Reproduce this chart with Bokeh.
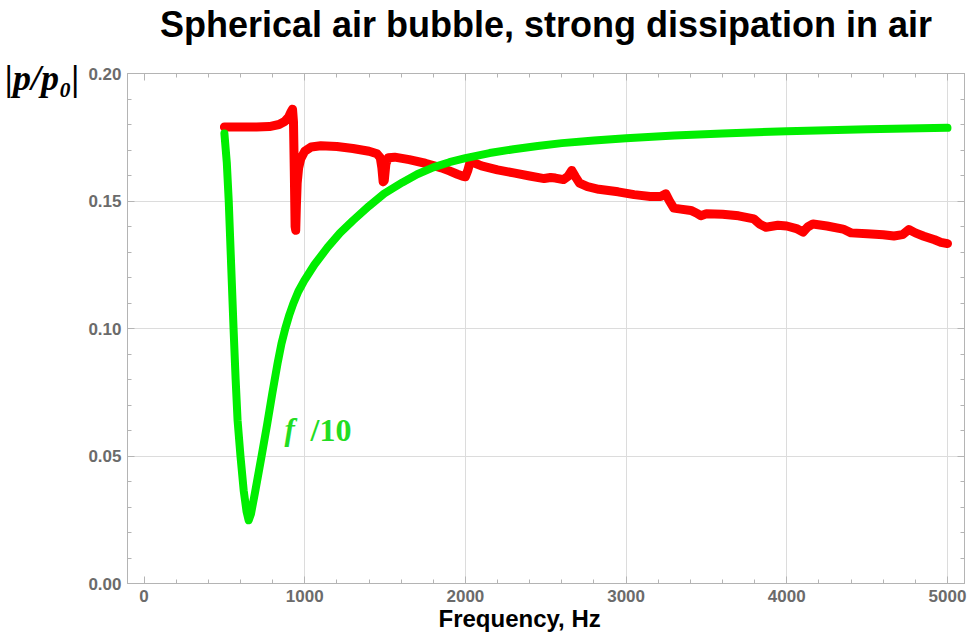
from bokeh.plotting import figure
from bokeh.models import (Range1d, LinearAxis, SingleIntervalTicker, FixedTicker,
                          NumeralTickFormatter, CustomJSTickFormatter, Label, Title, Grid)
from bokeh.embed import file_html
from bokeh.resources import INLINE

# ---------------- data ----------------
title_text = "Spherical air bubble, strong dissipation in air"
x_label = "Frequency, Hz"
y_label = "|p/p₀|"
curve_label_f = "f"
curve_label_div = "/10"

freq_red = [500, 600, 700, 780, 840, 875, 900, 915, 924, 930, 935, 940, 944, 948, 953, 962, 975,
            1000, 1040, 1100, 1200, 1300, 1400, 1450, 1470, 1480, 1488, 1495, 1505, 1520, 1560,
            1650, 1750, 1850, 1900, 1950, 1980, 2000, 2015, 2030, 2060, 2100, 2200, 2300, 2400,
            2490, 2530, 2560, 2610, 2640, 2662, 2685, 2710, 2760, 2830, 2950, 3050, 3150, 3215,
            3247, 3270, 3297, 3340, 3403, 3440, 3465, 3500, 3600, 3700, 3795, 3830, 3870, 3945,
            4000, 4060, 4101, 4130, 4163, 4250, 4350, 4400, 4500, 4600, 4667, 4720, 4760, 4800,
            4853, 4920, 4959, 5000]
p_red = [0.1790, 0.1790, 0.1790, 0.1792, 0.1800, 0.1812, 0.1830, 0.1850, 0.1860, 0.1810, 0.1620,
         0.1400, 0.1385, 0.1480, 0.1570, 0.1630, 0.1665,
         0.1695, 0.1712, 0.1717, 0.1714, 0.1706, 0.1695, 0.1685, 0.1670, 0.1630, 0.1575, 0.1580,
         0.1645, 0.1670, 0.1672,
         0.1662, 0.1648, 0.1630, 0.1618, 0.1605, 0.1598, 0.1595, 0.1620, 0.1655, 0.1648, 0.1638,
         0.1622, 0.1610, 0.1598,
         0.1588, 0.1592, 0.1590, 0.1584, 0.1598, 0.1620, 0.1595, 0.1570, 0.1556, 0.1546, 0.1536,
         0.1525, 0.1518, 0.1518,
         0.1528, 0.1500, 0.1472, 0.1468, 0.1463, 0.1452, 0.1442, 0.1450, 0.1448, 0.1442, 0.1430,
         0.1410, 0.1397, 0.1405,
         0.1402, 0.1392, 0.1378, 0.1398, 0.1410, 0.1402, 0.1390, 0.1375, 0.1372, 0.1368, 0.1363,
         0.1368, 0.1388, 0.1375,
         0.1362, 0.1348, 0.1338, 0.1333]

freq_green = [500, 515, 527, 542, 557, 570, 582, 600, 620, 638, 651, 665, 690, 731, 765, 798, 832,
              855, 879, 905, 929, 960, 997, 1060, 1142, 1220, 1301, 1400, 1494, 1608, 1700, 1800,
              1900, 2000, 2150, 2300, 2450, 2600, 2800, 3000, 3300, 3600, 4000, 4500, 5000]
p_green = [0.1765, 0.1650, 0.1500, 0.1250, 0.1000, 0.0800, 0.0640, 0.0500, 0.0365, 0.0282, 0.0248,
           0.0272, 0.0355, 0.0498, 0.0620, 0.0745, 0.0867,
           0.0940, 0.1000, 0.1055, 0.1098, 0.1145, 0.1188, 0.1250, 0.1318, 0.1375, 0.1424, 0.1480,
           0.1529, 0.1573, 0.1605, 0.1632,
           0.1652, 0.1668, 0.1688, 0.1703, 0.1716, 0.1727, 0.1737, 0.1746, 0.1757, 0.1765, 0.1774,
           0.1781, 0.1787]

x_grid_ticks = [1000, 2000, 3000, 4000, 5000]
y_grid_ticks = [0.05, 0.10, 0.15, 0.20]

# ---------------- figure ----------------
W, H = 972, 637
FL, FR, FT, FB = 127, 964, 73, 583
X0, X1 = -103, 5106
Y0, Y1 = 0.0, 0.2

p = figure(width=W, height=H, output_backend="svg", toolbar_location=None,
           x_range=Range1d(X0, X1), y_range=Range1d(Y0, Y1),
           min_border_left=FL, min_border_right=W - FR, min_border_top=FT, min_border_bottom=H - FB,
           x_axis_type=None, y_axis_type=None)
p.background_fill_color = "white"
p.border_fill_color = "white"
p.outline_line_color = "#b4b4b4"
p.outline_line_width = 1

FRAME_COL = "#b4b4b4"
TICK_LABEL_COL = "#6b6b6b"


def blank():
    return CustomJSTickFormatter(code="return ''")


def make_axis(kind, labels, standoff=6):
    if kind == "x":
        ax = LinearAxis(ticker=SingleIntervalTicker(interval=1000, num_minor_ticks=5))
    else:
        ax = LinearAxis(ticker=SingleIntervalTicker(interval=0.05, num_minor_ticks=5),
                        formatter=NumeralTickFormatter(format="0.00"))
    ax.axis_line_color = FRAME_COL
    ax.major_tick_line_color = FRAME_COL
    ax.minor_tick_line_color = FRAME_COL
    ax.major_tick_in = 7
    ax.major_tick_out = 0
    ax.minor_tick_in = 4
    ax.minor_tick_out = 0
    ax.major_label_text_font = "Liberation Sans"
    ax.major_label_text_font_style = "bold"
    ax.major_label_text_font_size = "17px"
    ax.major_label_text_color = TICK_LABEL_COL
    ax.major_label_standoff = standoff
    if not labels:
        ax.formatter = blank()
    return ax


p.add_layout(make_axis("x", True), "below")
p.add_layout(make_axis("y", True), "left")
p.add_layout(make_axis("x", False, standoff=0), "above")
p.add_layout(make_axis("y", False, standoff=0), "right")

# invisible spacer between the top frame edge and the title
spacer = LinearAxis(ticker=FixedTicker(ticks=[0], minor_ticks=[]), formatter=blank())
spacer.axis_line_color = None
spacer.major_tick_line_color = None
spacer.minor_tick_line_color = None
spacer.major_tick_in = 0
spacer.major_tick_out = 29
spacer.minor_tick_out = 0
spacer.major_label_standoff = 0
p.add_layout(spacer, "above")

# y quantity label, drawn as the single tick label of an outer left axis at the top of the frame
yl_axis = LinearAxis(ticker=FixedTicker(ticks=[0.1982], minor_ticks=[]),
                     formatter=CustomJSTickFormatter(code="return %r" % y_label))
yl_axis.axis_line_color = None
yl_axis.major_tick_line_color = None
yl_axis.minor_tick_line_color = None
yl_axis.major_tick_out = 0
yl_axis.major_tick_in = 0
yl_axis.major_label_standoff = 6
yl_axis.major_label_text_font = "Liberation Serif"
yl_axis.major_label_text_font_style = "bold italic"
yl_axis.major_label_text_font_size = "36px"
yl_axis.major_label_text_color = "black"
p.add_layout(yl_axis, "left")

gx = Grid(dimension=0, ticker=FixedTicker(ticks=x_grid_ticks), grid_line_color="#dcdcdc", grid_line_width=1)
gy = Grid(dimension=1, ticker=FixedTicker(ticks=y_grid_ticks), grid_line_color="#dcdcdc", grid_line_width=1)
p.add_layout(gx)
p.add_layout(gy)

# ---------------- curves ----------------
p.line(freq_red, p_red, line_color="#ff0000", line_width=9, line_join="round", line_cap="round")
p.line(freq_green, p_green, line_color="#00ee00", line_width=8, line_join="round", line_cap="round")

# ---------------- titles ----------------
p.title.text = title_text
p.title.align = "center"
p.title.text_font = "Liberation Sans"
p.title.text_font_size = "36px"
p.title.text_font_style = "bold"
p.title.text_color = "black"
p.title.vertical_align = "bottom"
p.title.standoff = 0

xt = Title(text=x_label, align="left", offset=438 - FL, standoff=-3,
           text_font="Liberation Sans", text_font_size="24px", text_font_style="bold",
           text_color="black")
p.add_layout(xt, "below")


# ---------------- in-frame text ----------------
def px2x(X):
    return X0 + (X - FL) * (X1 - X0) / (FR - FL)


def px2y(Y):
    return Y0 + (FB - Y) * (Y1 - Y0) / (FB - FT)


serif = "Liberation Serif"
GREEN_TXT = "#22dd22"
p.add_layout(Label(x=px2x(284), y=px2y(429), text=curve_label_f, text_font=serif, text_font_size="31px",
                   text_font_style="bold italic", text_color=GREEN_TXT, text_baseline="alphabetic"))
p.add_layout(Label(x=px2x(310), y=px2y(429), text=curve_label_div, text_font=serif, text_font_size="32px",
                   text_font_style="bold", text_color=GREEN_TXT, text_baseline="alphabetic"))

open("out.html", "w").write(file_html(p, INLINE))
